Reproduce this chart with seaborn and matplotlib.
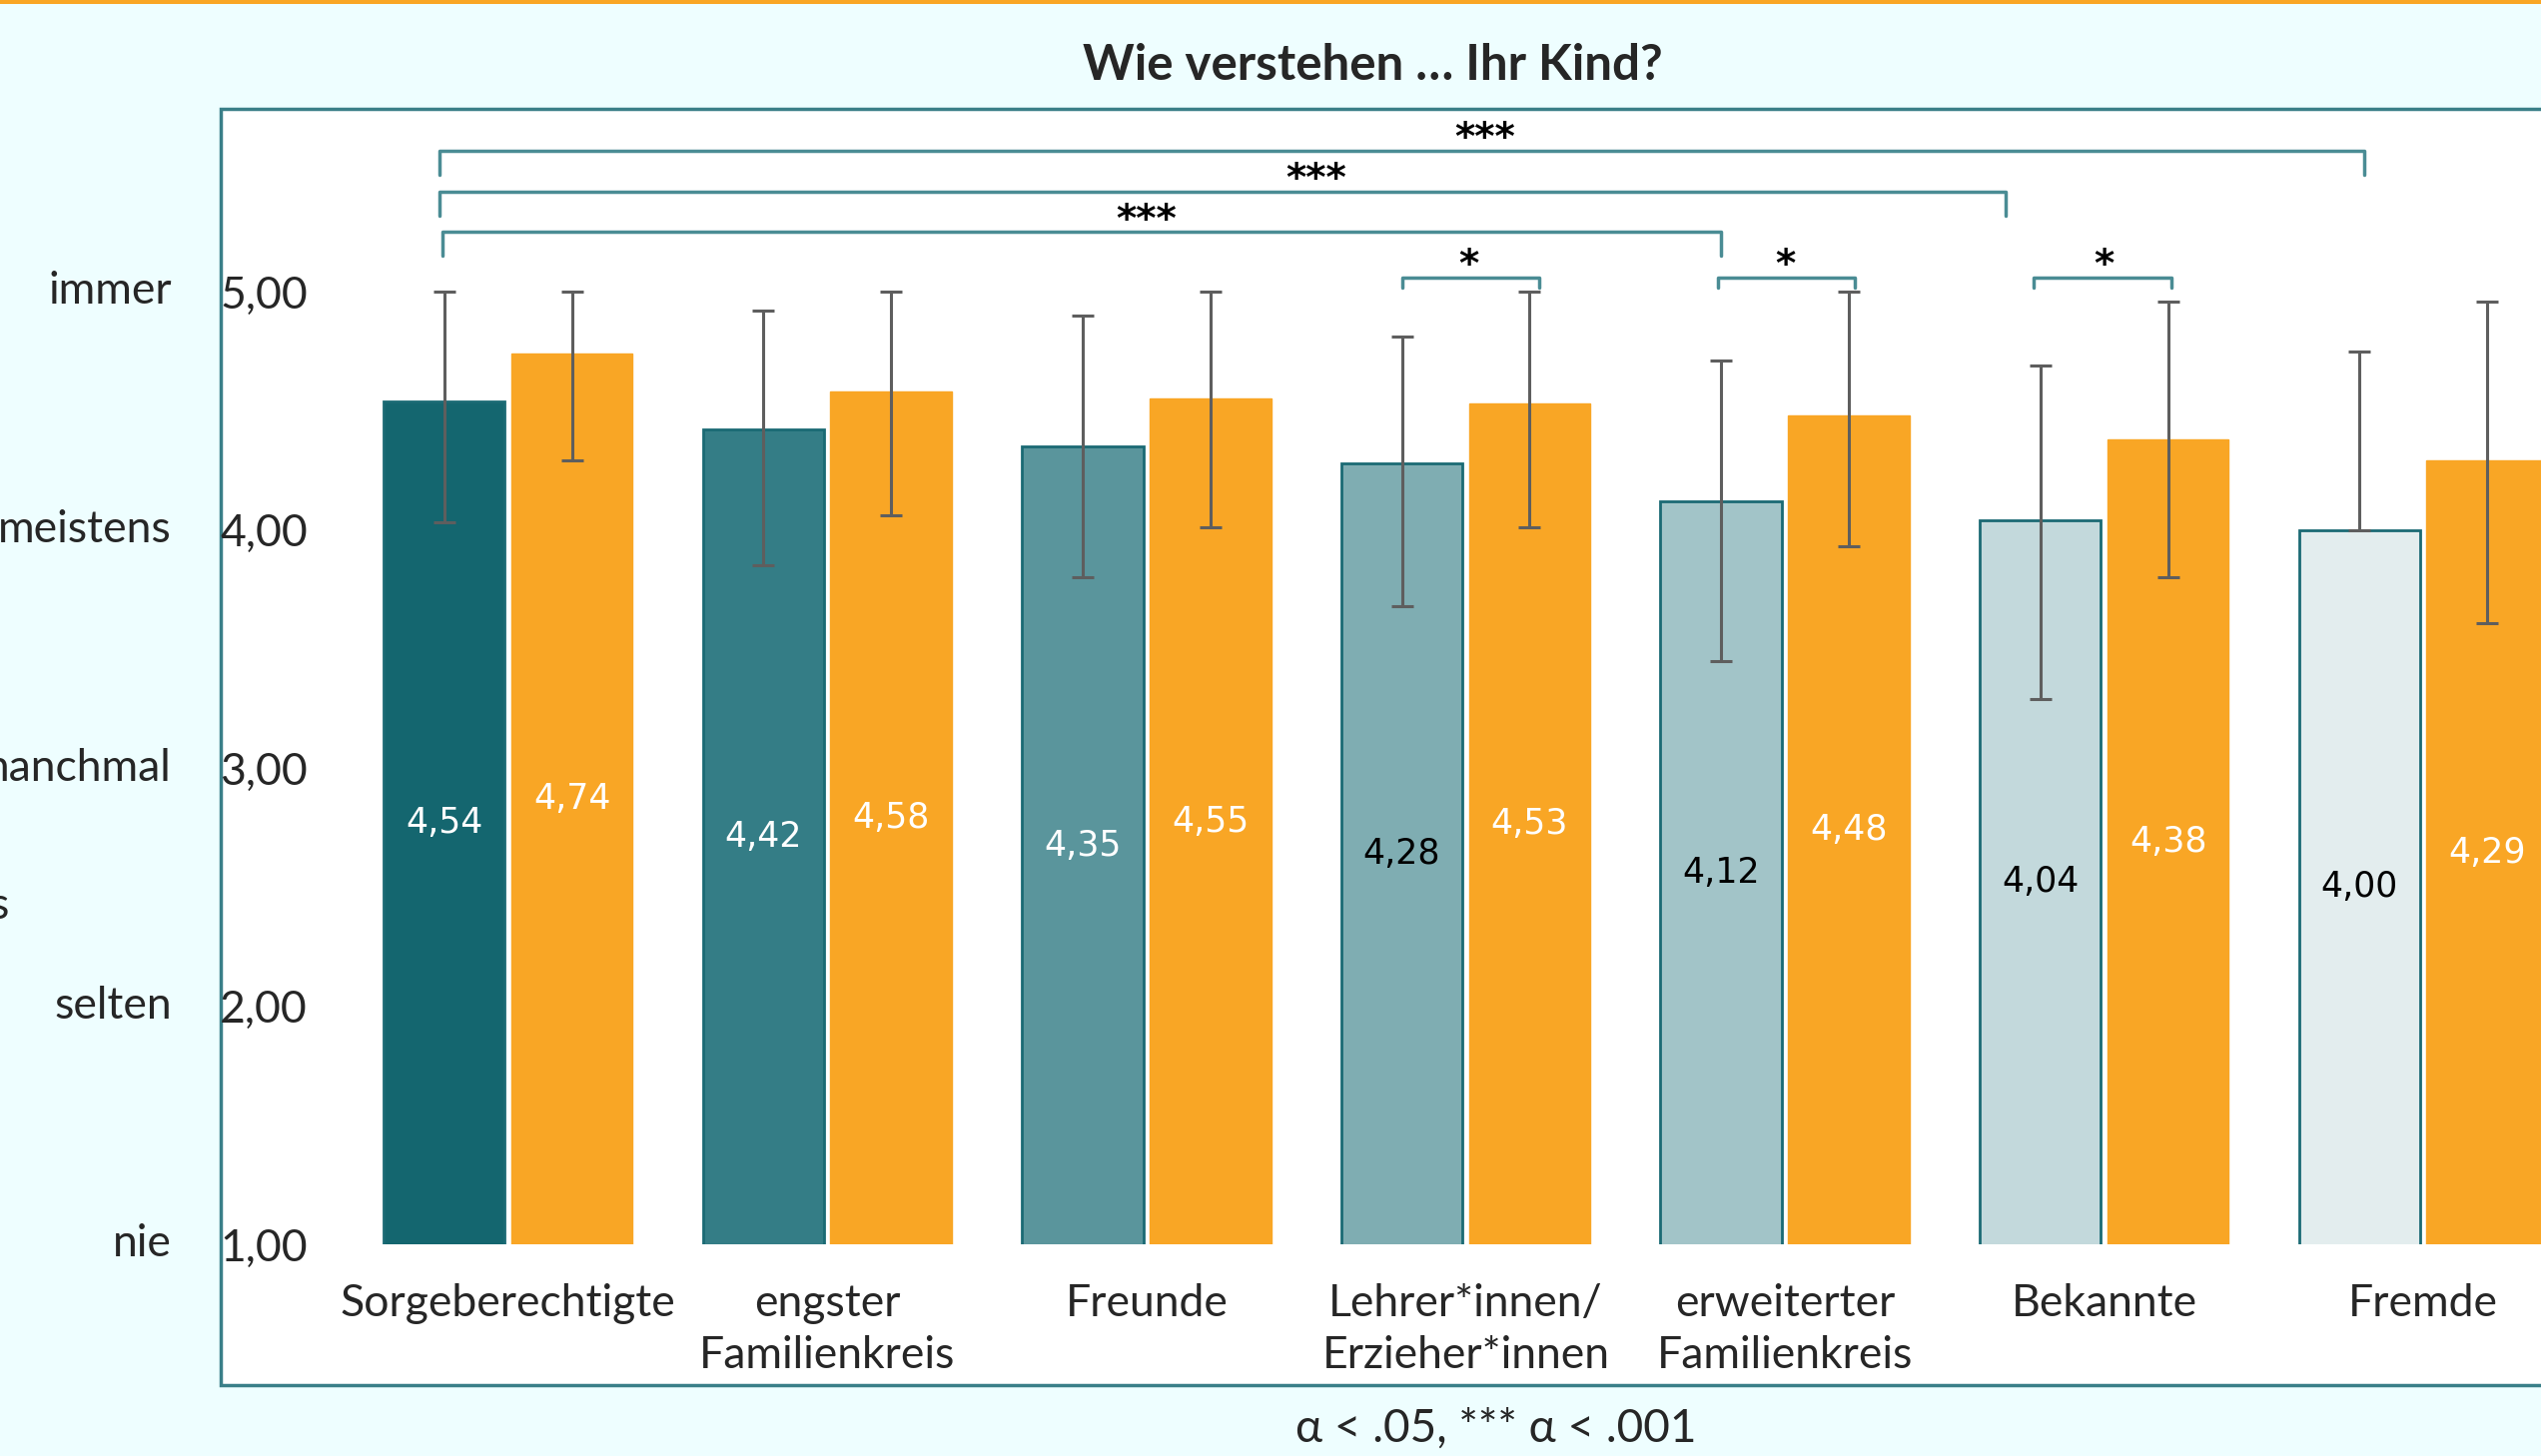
import numpy as np
import pandas as pd
import matplotlib.pyplot as plt
import matplotlib.transforms as mtransforms
from matplotlib.patches import Rectangle
import seaborn as sns

# data
categories = ["Sorgeberechtigte", "engster\nFamilienkreis", "Freunde",
              "Lehrer*innen/\nErzieher*innen", "erweiterter\nFamilienkreis",
              "Bekannte", "Fremde"]
groups = ["Gruppe 1", "Gruppe 2"]
means_teal = [4.54, 4.42, 4.35, 4.28, 4.12, 4.04, 4.00]
means_orange = [4.74, 4.58, 4.55, 4.53, 4.48, 4.38, 4.29]
err_lo_teal = [0.51, 0.57, 0.55, 0.60, 0.67, 0.75, 0.0]
err_hi_teal = [0.46, 0.50, 0.55, 0.53, 0.59, 0.65, 0.75]
err_lo_orange = [0.45, 0.52, 0.54, 0.52, 0.55, 0.58, 0.68]
err_hi_orange = [0.26, 0.42, 0.45, 0.47, 0.52, 0.58, 0.67]
scale_labels = ["nie", "selten", "manchmal", "meistens", "immer"]
scale_values = [1, 2, 3, 4, 5]

# significance brackets (data coords)
br_x0 = [-0.215, -0.215, -0.205, 2.80, 3.79, 4.78]
br_x1 = [5.815, 4.69, 3.80, 3.23, 4.22, 5.21]
br_y = [5.59, 5.42, 5.25, 5.06, 5.06, 5.06]
br_drop = [0.10, 0.10, 0.10, 0.045, 0.045, 0.045]
br_text = ["***", "***", "***", "*", "*", "*"]
br_text_x = [3.06, 2.53, 2.00, 3.01, 4.00, 5.00]

teal_shades = ["#14666F", "#347D86", "#5A959C", "#7FADB2", "#A2C4C8", "#C3D9DC", "#E3EDEE"]
orange = "#F9A625"
label_colors = ["white", "white", "white", "black", "black", "black", "black"]

df = pd.DataFrame({
    "Kategorie": categories * 2,
    "Gruppe": [groups[0]] * 7 + [groups[1]] * 7,
    "Mittelwert": means_teal + means_orange,
})

sns.set_theme(style="white")
plt.rcParams["font.family"] = ["Lato", "DejaVu Sans"]

W, H = 2544, 1458
fig = plt.figure(figsize=(W / 100, H / 100), dpi=100, facecolor="#EEFEFF")

# slide decorations: orange top line, white chart frame
fig.add_artist(Rectangle((0, 1 - 4 / H), 1, 4 / H, transform=fig.transFigure,
                         facecolor="#F9A625", edgecolor="none"))
fig.add_artist(Rectangle((221 / W, 71 / H), 1.0, (1387 - 109) / H, transform=fig.transFigure,
                         facecolor="white", edgecolor="#3A7F88", lw=2.5, zorder=0))

xlo, xhi = -0.606, 6.6
ylo, yhi = 1.0, 5.9
ax = fig.add_axes([315 / W, 212 / H, (xhi - xlo) * 319.6 / W, (yhi - ylo) * 238.5 / H])
ax.patch.set_alpha(0)

sns.barplot(data=df, x="Kategorie", y="Mittelwert", hue="Gruppe",
            palette=[teal_shades[0], orange], width=0.8, gap=0.05, saturation=1,
            errorbar=None, legend=False, ax=ax)

teal_bars = ax.containers[0]
orange_bars = ax.containers[1]
for p, c in zip(teal_bars, teal_shades):
    p.set_facecolor(c)
    p.set_edgecolor("#1B6A74")
    p.set_linewidth(2)
for p in orange_bars:
    p.set_edgecolor(orange)

xt = [p.get_x() + p.get_width() / 2 for p in teal_bars]
xo = [p.get_x() + p.get_width() / 2 for p in orange_bars]

ax.errorbar(xt, means_teal, yerr=[err_lo_teal, err_hi_teal], fmt="none",
            ecolor="#5E5E5E", elinewidth=2.2, capsize=8, capthick=2.2, zorder=5)
ax.errorbar(xo, means_orange, yerr=[err_lo_orange, err_hi_orange], fmt="none",
            ecolor="#5E5E5E", elinewidth=2.2, capsize=8, capthick=2.2, zorder=5)

for x, m, c in zip(xt, means_teal, label_colors):
    ax.text(x, (ylo + m) / 2, f"{m:.2f}".replace(".", ","), ha="center", va="center",
            color=c, fontsize=25, family="DejaVu Sans", zorder=6)
for x, m in zip(xo, means_orange):
    ax.text(x, (ylo + m) / 2, f"{m:.2f}".replace(".", ","), ha="center", va="center",
            color="white", fontsize=25, family="DejaVu Sans", zorder=6)

for x0, x1, y, d, t, tx in zip(br_x0, br_x1, br_y, br_drop, br_text, br_text_x):
    ax.plot([x0, x0, x1, x1], [y - d, y, y, y - d], color="#4A8C94", lw=2.5,
            solid_joinstyle="round", clip_on=False)
    ax.text(tx, y - 0.03, t, ha="center", va="bottom", fontsize=28,
            fontweight="bold", color="black", family="DejaVu Sans")

ax.set_xlim(xlo, xhi)
ax.set_ylim(ylo, yhi)
ax.set_yticks(scale_values)
ax.set_yticklabels([f"{v:.2f}".replace(".", ",") for v in scale_values])
ax.set_xlabel("")
ax.set_ylabel("")
ax.tick_params(axis="y", length=0, pad=5, labelsize=32)
ax.tick_params(axis="x", length=0, pad=28, labelsize=32)
for lab in ax.get_xticklabels():
    lab.set_linespacing(1.35)
sns.despine(ax=ax, left=True, bottom=True)

blend = mtransforms.blended_transform_factory(fig.transFigure, ax.transData)
for v, lab in zip(scale_values, scale_labels):
    ax.text(172 / W, v, lab, transform=blend, ha="right", va="center", fontsize=32)
ax.text(9 / W, 2.42, "s", transform=blend, ha="right", va="center", fontsize=32)

fig.text(1374 / W, 1 - 66 / H, "Wie verstehen … Ihr Kind?", ha="center", va="center",
         fontsize=35.5, fontweight="bold")
fig.text(1498 / W, 1 - 1431 / H, "α < .05, *** α < .001", ha="center", va="center",
         fontsize=33)

fig.savefig("out.png", dpi=100, facecolor=fig.get_facecolor())
